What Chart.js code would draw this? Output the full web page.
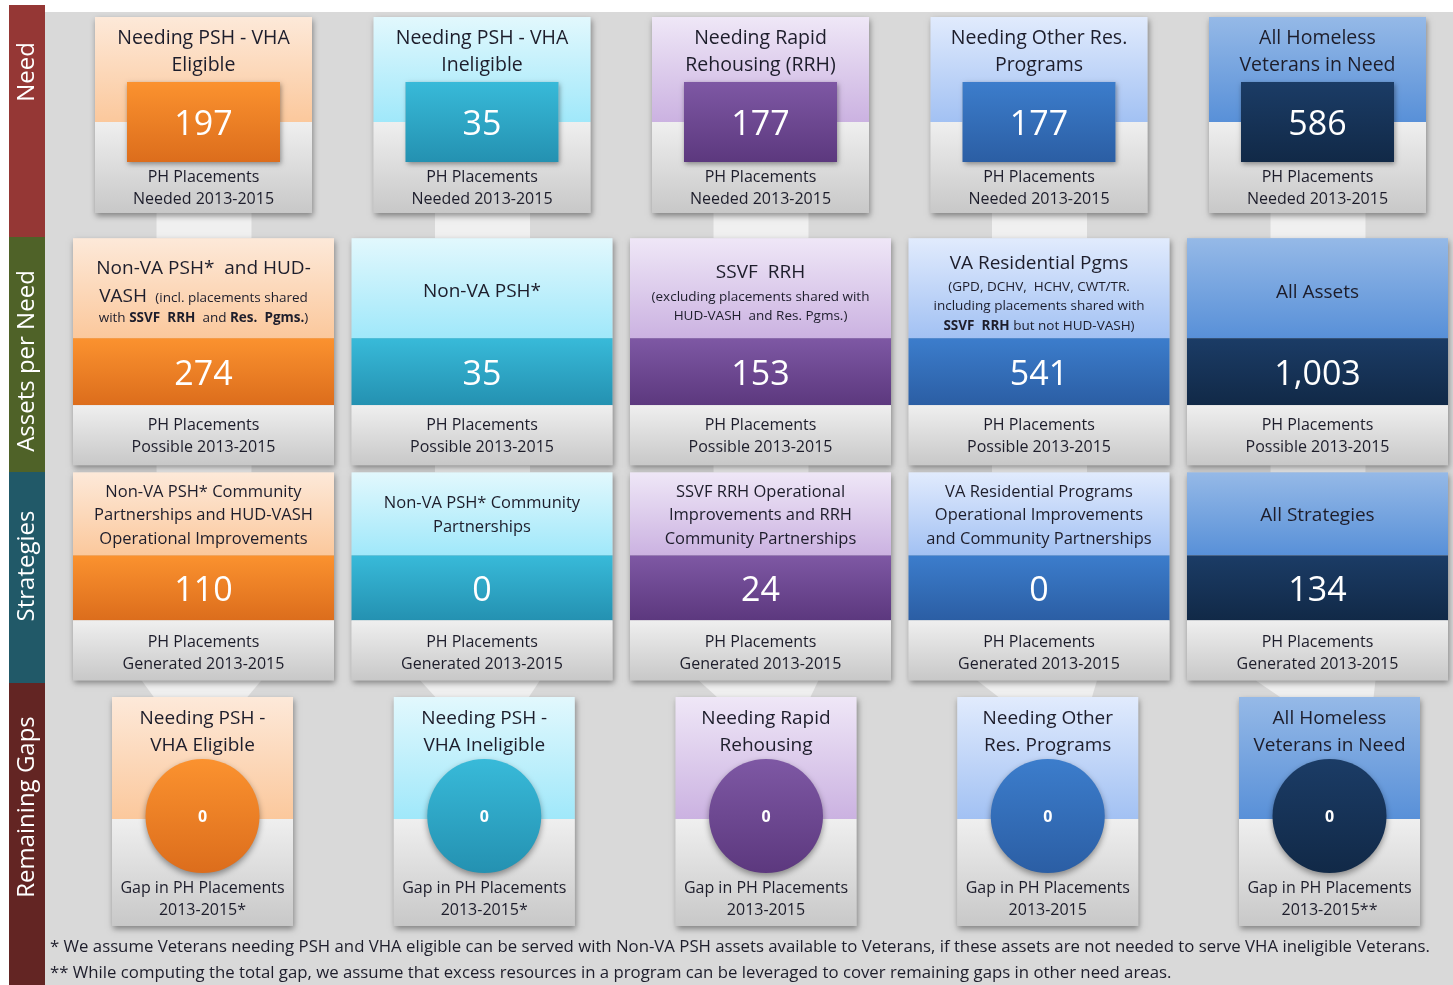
<!DOCTYPE html>
<html>
<head>
<meta charset="utf-8">
<title>Homeless Veterans: Need, Assets, Strategies and Remaining Gaps</title>
<script src="https://cdn.jsdelivr.net/npm/chart.js@4.4.1/dist/chart.umd.min.js"></script>
<style>
  html, body { margin: 0; padding: 0; background: #fff; }
  canvas { display: block; }
</style>
</head>
<body>
<canvas id="myChart" width="1453" height="985"></canvas>
<script>
// ---- data ----
const rowLabels = ["Need", "Assets per Need", "Strategies", "Remaining Gaps"];

const needValues = [197, 35, 177, 177, 586];
const assetValues = [274, 35, 153, 541, 1003];
const strategyValues = [110, 0, 24, 0, 134];
const gapValues = [0, 0, 0, 0, 0];

const needTitles = [
    ["Needing PSH - VHA", "Eligible"],
    ["Needing PSH - VHA", "Ineligible"],
    ["Needing Rapid", "Rehousing (RRH)"],
    ["Needing Other Res.", "Programs"],
    ["All Homeless", "Veterans in Need"]
];
// each line is a list of runs: [text, kind]  L = large, s = small, b = small bold
const assetTitles = [
    [[["Non-VA PSH*  and HUD-", "L"]],
     [["VASH ", "L"], [" (incl. placements shared", "s"]],
     [["with ", "s"], ["SSVF  RRH", "b"], ["  and ", "s"], ["Res.  Pgms.", "b"], [")", "s"]]],
    [[["Non-VA PSH*", "L"]]],
    [[["SSVF  RRH", "L"]],
     [["(excluding placements shared with", "s"]],
     [["HUD-VASH  and Res. Pgms.)", "s"]]],
    [[["VA Residential Pgms", "L"]],
     [["(GPD, DCHV,  HCHV, CWT/TR.", "s"]],
     [["including placements shared with", "s"]],
     [["SSVF  RRH", "b"], [" but not HUD-VASH)", "s"]]],
    [[["All Assets", "L"]]]
];
const strategyTitles = [
    ["Non-VA PSH* Community", "Partnerships and HUD-VASH", "Operational Improvements"],
    ["Non-VA PSH* Community", "Partnerships"],
    ["SSVF RRH Operational", "Improvements and RRH", "Community Partnerships"],
    ["VA Residential Programs", "Operational Improvements", "and Community Partnerships"],
    ["All Strategies"]
];
const gapTitles = [
    ["Needing PSH -", "VHA Eligible"],
    ["Needing PSH -", "VHA Ineligible"],
    ["Needing Rapid", "Rehousing"],
    ["Needing Other", "Res. Programs"],
    ["All Homeless", "Veterans in Need"]
];
const captions = [
    ["PH Placements", "Needed 2013-2015"],
    ["PH Placements", "Possible 2013-2015"],
    ["PH Placements", "Generated 2013-2015"]
];
const gapCaption = "Gap in PH Placements";
const gapPeriods = ["2013-2015*", "2013-2015*", "2013-2015", "2013-2015", "2013-2015**"];
const footnotes = [
    "* We assume Veterans needing PSH and VHA eligible can be served with Non-VA PSH assets available to Veterans, if these assets are not needed to serve VHA ineligible Veterans.",
    "** While computing the total gap, we assume that excess resources in a program can be leveraged to cover remaining gaps in other need areas."
];

// ---- styles / layout ----
const FONT = '"Open Sans", "DejaVu Sans", sans-serif';
const INK = '#1d1d2b';
const PANEL = '#d9d9d9';
const LINK = '#f0f0f0';
const bandColors = ['#953735', '#4f6228', '#215968', '#632523'];
const palette = [
    { light: ['#fde9d9', '#fbc89c'], strong: ['#fb922f', '#dc6d1c'] },
    { light: ['#e2f8fd', '#a0e8fa'], strong: ['#38bad9', '#2491b1'] },
    { light: ['#efe7f7', '#cbb2e1'], strong: ['#7e58a4', '#5c387e'] },
    { light: ['#e1ebfd', '#a2c1f3'], strong: ['#3c7dcc', '#2b5ea4'] },
    { light: ['#95b9e7', '#5890d8'], strong: ['#1b3c66', '#112947'] }
];
const GREY = ['#efefef', '#c8c8c8'];

const W = 1453, H = 985;
const COL_X0 = 203.5, COL_STEP = 278.5;   // need / assets / strategies columns
const GAP_X0 = 202.5, GAP_STEP = 281.75;  // remaining gaps columns
const ROW_Y0 = 115, ROW_STEP = 233.667;
const ROW_SHIFT = [0, 3, -6, 0];
const CIRCLE_R = 57;
const BAND_X = 9, BAND_W = 36;
const BAND_EDGES = [5, 237, 472, 683, 985];
const LABEL_Y = [72, 361, 566, 807];
const PANEL_LEFT = 45, PANEL_TOP = 12;
const assetTitleY = [[27, 55, 77], [50], [31, 56, 75], [22, 46, 65, 85], [51]];
const RUN_SIZE = { L: 19, s: 13.5, b: 13.5 };
const CAPTION = 16;
const TEXT_DY = 1.5;   // Open Sans sits a little high with 'middle'
const VALUE_DY = 1.5;

// ---- drawing helpers ----
function vgrad(ctx, y0, y1, c) {
    let g = ctx.createLinearGradient(0, y0, 0, y1);
    g.addColorStop(0, c[0]);
    g.addColorStop(1, c[1]);
    return g;
}

function shadowBox(ctx, x, y, w, h, blur, dy) {
    ctx.save();
    ctx.shadowColor = 'rgba(0,0,0,0.4)';
    ctx.shadowBlur = blur;
    ctx.shadowOffsetY = dy;
    ctx.shadowOffsetX = 1;
    ctx.fillStyle = '#cccccc';
    ctx.fillRect(x, y, w, h);
    ctx.restore();
}

function label(ctx, s, x, y, size, opts) {
    opts = opts || {};
    ctx.font = (opts.bold ? 'bold ' : '') + size + 'px ' + FONT;
    ctx.fillStyle = opts.color || INK;
    ctx.textAlign = opts.align || 'center';
    ctx.textBaseline = 'middle';
    ctx.fillText(s, x, y + TEXT_DY);
}

function runLine(ctx, runs, cx, y) {
    let big = Math.max.apply(null, runs.map(r => RUN_SIZE[r[1]]));
    let total = 0;
    runs.forEach(r => {
        ctx.font = (r[1] == 'b' ? 'bold ' : '') + RUN_SIZE[r[1]] + 'px ' + FONT;
        total += ctx.measureText(r[0]).width;
    });
    let x = cx - total / 2;
    ctx.fillStyle = INK;
    ctx.textAlign = 'left';
    ctx.textBaseline = 'alphabetic';
    runs.forEach(r => {
        ctx.font = (r[1] == 'b' ? 'bold ' : '') + RUN_SIZE[r[1]] + 'px ' + FONT;
        ctx.fillText(r[0], x, y + big * 0.36 + TEXT_DY);
        x += ctx.measureText(r[0]).width;
    });
}

function fmt(v) {
    return v.toLocaleString('en-US');
}

// ---- board plugin: panel, bands, cards ----
const boardPlugin = {
    id: 'board',
    beforeDatasetsDraw(chart) {
        const ctx = chart.ctx;
        const sx = chart.scales.x, sg = chart.scales.xGap, sy = chart.scales.y;
        const rowY = r => sy.getPixelForValue(r) + ROW_SHIFT[r];

        ctx.save();
        ctx.fillStyle = '#ffffff';
        ctx.fillRect(0, 0, chart.width, chart.height);
        ctx.fillStyle = PANEL;
        ctx.fillRect(PANEL_LEFT, PANEL_TOP, chart.width - PANEL_LEFT, chart.height - PANEL_TOP);
        rowLabels.forEach((_, r) => {
            ctx.fillStyle = bandColors[r];
            ctx.fillRect(BAND_X, BAND_EDGES[r], BAND_W, BAND_EDGES[r + 1] - BAND_EDGES[r]);
        });

        // connectors
        const top0 = rowY(0) - 98, bot0 = rowY(0) + 98;
        const top1 = rowY(1) - 113.5, bot1 = rowY(1) + 113.5;
        const top2 = rowY(2) - 104, bot2 = rowY(2) + 104;
        const top3 = sy.getPixelForValue(3) - 119;
        ctx.fillStyle = LINK;
        needValues.forEach((_, i) => {
            let cx = sx.getPixelForValue(i);
            ctx.fillRect(cx - 47, bot0, 95, top1 - bot0 + 1);
            ctx.fillRect(cx - 47, bot1, 95, top2 - bot1 + 1);
            let gx = sg.getPixelForValue(i);
            ctx.beginPath();
            ctx.moveTo(cx - 62, bot2);
            ctx.lineTo(cx + 58, bot2);
            ctx.lineTo(gx + 44, top3 + 1);
            ctx.lineTo(gx - 48, top3 + 1);
            ctx.closePath();
            ctx.fill();
        });

        // row 1: need
        needValues.forEach((v, i) => {
            let p = palette[i];
            let w = 217, h = 196, cx = sx.getPixelForValue(i);
            let left = cx - w / 2, top = top0;
            shadowBox(ctx, left, top, w, h, 6, 3);
            ctx.fillStyle = vgrad(ctx, top, top + 105, p.light);
            ctx.fillRect(left, top, w, 105);
            ctx.fillStyle = vgrad(ctx, top + 105, top + h, GREY);
            ctx.fillRect(left, top + 105, w, h - 105);
            label(ctx, needTitles[i][0], cx, top + 20, 19.5);
            label(ctx, needTitles[i][1], cx, top + 47, 19.5);
            shadowBox(ctx, left + 32, top + 65, w - 64, 80, 5, 2);
            ctx.fillStyle = vgrad(ctx, top + 65, top + 145, p.strong);
            ctx.fillRect(left + 32, top + 65, w - 64, 80);
            label(ctx, fmt(v), cx, top + 105 + VALUE_DY, 34, { color: '#ffffff' });
            label(ctx, captions[0][0], cx, top + 159, CAPTION);
            label(ctx, captions[0][1], cx, top + 181, CAPTION);
        });

        // row 2: assets
        assetValues.forEach((v, i) => {
            let p = palette[i];
            let w = 261, h = 227, cx = sx.getPixelForValue(i);
            let left = cx - w / 2, top = top1;
            shadowBox(ctx, left, top, w, h, 6, 3);
            ctx.fillStyle = vgrad(ctx, top, top + 100, p.light);
            ctx.fillRect(left, top, w, 100);
            ctx.fillStyle = vgrad(ctx, top + 100, top + 167, p.strong);
            ctx.fillRect(left, top + 100, w, 67);
            ctx.fillStyle = vgrad(ctx, top + 167, top + h, GREY);
            ctx.fillRect(left, top + 167, w, h - 167);
            assetTitles[i].forEach((line, k) => runLine(ctx, line, cx, top + assetTitleY[i][k]));
            label(ctx, fmt(v), cx, top + 134 + VALUE_DY, 34, { color: '#ffffff' });
            label(ctx, captions[1][0], cx, top + 186, CAPTION);
            label(ctx, captions[1][1], cx, top + 208, CAPTION);
        });

        // row 3: strategies
        strategyValues.forEach((v, i) => {
            let p = palette[i];
            let w = 261, h = 208, cx = sx.getPixelForValue(i);
            let left = cx - w / 2, top = top2;
            shadowBox(ctx, left, top, w, h, 6, 3);
            ctx.fillStyle = vgrad(ctx, top, top + 83, p.light);
            ctx.fillRect(left, top, w, 83);
            ctx.fillStyle = vgrad(ctx, top + 83, top + 148, p.strong);
            ctx.fillRect(left, top + 83, w, 65);
            ctx.fillStyle = vgrad(ctx, top + 148, top + h, GREY);
            ctx.fillRect(left, top + 148, w, h - 148);
            let lines = strategyTitles[i];
            let size = lines.length == 1 ? 19 : 16.5;
            let y0 = top + 41.5 - (lines.length - 1) * 23.5 / 2;
            lines.forEach((s, k) => label(ctx, s, cx, y0 + k * 23.5, size));
            label(ctx, fmt(v), cx, top + 116 + VALUE_DY, 34, { color: '#ffffff' });
            label(ctx, captions[2][0], cx, top + 169, CAPTION);
            label(ctx, captions[2][1], cx, top + 191, CAPTION);
        });

        // row 4: remaining gaps (circles come from the bubble dataset)
        gapValues.forEach((v, i) => {
            let p = palette[i];
            let w = 181, h = 229, cx = sg.getPixelForValue(i);
            let left = cx - w / 2, top = top3;
            shadowBox(ctx, left, top, w, h, 6, 3);
            ctx.fillStyle = vgrad(ctx, top, top + 122, p.light);
            ctx.fillRect(left, top, w, 122);
            ctx.fillStyle = vgrad(ctx, top + 122, top + h, GREY);
            ctx.fillRect(left, top + 122, w, h - 122);
            label(ctx, gapTitles[i][0], cx, top + 20, 19);
            label(ctx, gapTitles[i][1], cx, top + 47, 19);
            label(ctx, gapCaption, cx, top + 190, CAPTION);
            label(ctx, gapPeriods[i], cx, top + 212, CAPTION);
        });
        ctx.restore();

        // shadow for the circles drawn next
        ctx.save();
        ctx.shadowColor = 'rgba(0,0,0,0.4)';
        ctx.shadowBlur = 6;
        ctx.shadowOffsetY = 3;
    },
    afterDatasetsDraw(chart) {
        const ctx = chart.ctx;
        ctx.restore();
        ctx.save();
        const meta = chart.getDatasetMeta(0);
        meta.data.forEach((pt, i) => {
            label(ctx, fmt(gapValues[i]), pt.x, pt.y, 16, { bold: true, color: '#ffffff' });
        });

        // row labels on the left band
        rowLabels.forEach((s, r) => {
            ctx.save();
            ctx.translate(BAND_X + BAND_W / 2, LABEL_Y[r]);
            ctx.rotate(-Math.PI / 2);
            label(ctx, s, 0, -TEXT_DY, 24, { color: '#ffffff' });
            ctx.restore();
        });

        // footnotes, squeezed to the reference width
        ctx.font = '17px ' + FONT;
        let k = 1380 / ctx.measureText(footnotes[0]).width;
        footnotes.forEach((s, n) => {
            ctx.save();
            ctx.translate(50, 946 + n * 26);
            ctx.scale(k, 1);
            label(ctx, s, 0, 0, 17, { align: 'left' });
            ctx.restore();
        });
        ctx.restore();
    }
};

function circleFill(context) {
    const chart = context.chart;
    if (!chart.chartArea || context.dataIndex === undefined) return palette[0].strong[0];
    const cy = chart.scales.y.getPixelForValue(3);
    let c = palette[context.dataIndex].strong;
    let g = chart.ctx.createLinearGradient(0, cy - CIRCLE_R, 0, cy + CIRCLE_R);
    g.addColorStop(0, c[0]);
    g.addColorStop(1, c[1]);
    return g;
}

const myChart = document.getElementById('myChart');
new Chart(myChart, {
    type: 'bubble',
    data: {
        datasets: [{
            label: 'Gap in PH Placements 2013-2015',
            xAxisID: 'xGap',
            yAxisID: 'y',
            data: gapValues.map((v, i) => ({ x: i, y: 3 })),
            radius: CIRCLE_R,
            hoverRadius: 0,
            borderWidth: 0,
            backgroundColor: circleFill
        }]
    },
    options: {
        responsive: false,
        animation: false,
        events: [],
        layout: { padding: 0, autoPadding: false },
        plugins: {
            legend: { display: false },
            tooltip: { enabled: false }
        },
        scales: {
            x: { type: 'linear', display: false, min: -COL_X0 / COL_STEP, max: (W - COL_X0) / COL_STEP },
            xGap: { type: 'linear', axis: 'x', position: 'bottom', display: false, min: -GAP_X0 / GAP_STEP, max: (W - GAP_X0) / GAP_STEP },
            y: { type: 'linear', display: false, reverse: true, min: -ROW_Y0 / ROW_STEP, max: (H - ROW_Y0) / ROW_STEP }
        }
    },
    plugins: [boardPlugin]
});
</script>
</body>
</html>
